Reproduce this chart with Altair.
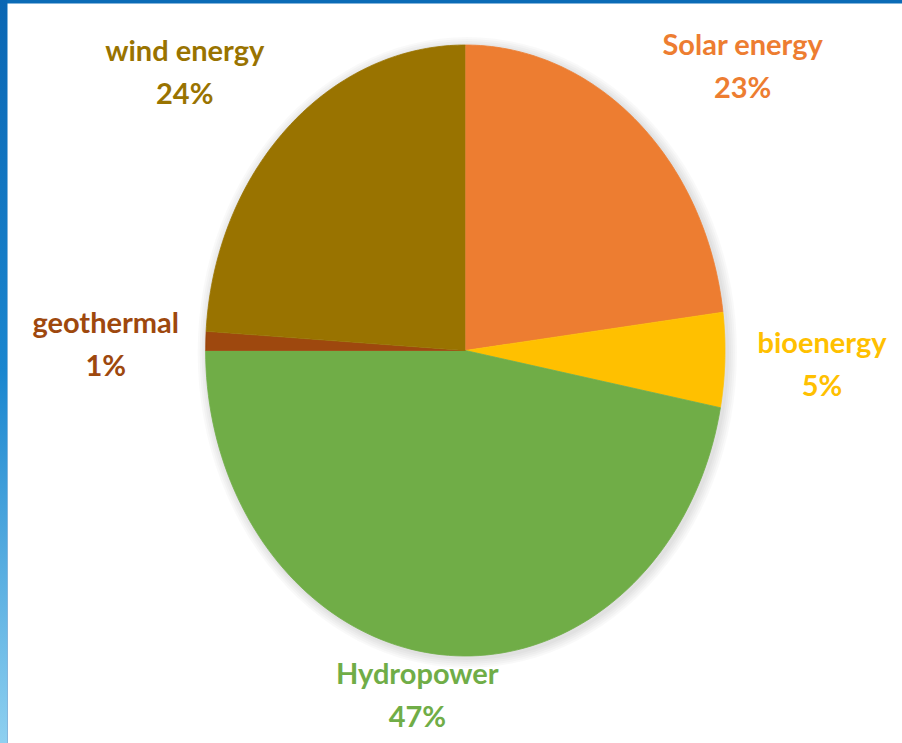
import altair as alt
import pandas as pd

# Share of each renewable source (percent), in clockwise order from 12 o'clock
categories = ["Solar energy", "bioenergy", "Hydropower", "geothermal", "wind energy"]
shares = [23, 5, 47, 1, 24]
colors = ["#ED7D31", "#FFC000", "#70AD47", "#9E480E", "#997300"]

df = pd.DataFrame({"category": categories, "share": shares, "rank": range(len(categories))})

W, H = 895, 740          # white panel / plot area
CX, CY = 458.3, 347.5    # pie centre inside the plot area (px)
RX, RY = 259.7, 305.5    # horizontal / vertical radius (px)
LINE_H = 43              # label line height (px)

xs = alt.Scale(domain=[-1, 1], range=[CX - RX, CX + RX])
ys = alt.Scale(domain=[-1, 1], range=[CY + RY, CY - RY])
cs = alt.Scale(domain=categories, range=colors)

FONT = "Lato, sans-serif"

# cumulative angles for every slice
base = (
    alt.Chart(df)
    .transform_window(cum="sum(share)", sort=[alt.SortField("rank")])
    .transform_joinaggregate(total="sum(share)")
    .transform_calculate(
        a0="2*PI*(datum.cum - datum.share)/datum.total",
        a1="2*PI*datum.cum/datum.total",
    )
)

# soft drop shadow: stacked translucent ellipses slightly larger than the pie
shadow = (
    alt.Chart(alt.Data(values=[{"k": 0}]))
    .transform_calculate(ring="sequence(1, 6)")
    .transform_flatten(["ring"])
    .transform_calculate(step="sequence(0, 121)")
    .transform_flatten(["step"])
    .transform_calculate(t="2*PI*datum.step/120")
    .transform_calculate(
        px=f"sin(datum.t)*(1 + datum.ring*2/{RX}) + 2/{RX}",
        py=f"cos(datum.t)*(1 + datum.ring*2/{RY}) - 2/{RY}",
    )
    .mark_line(filled=True, color="#000000", opacity=0.025, strokeWidth=0)
    .encode(
        x=alt.X("px:Q", scale=xs, axis=None),
        y=alt.Y("py:Q", scale=ys, axis=None),
        detail="ring:N",
        order="step:Q",
    )
)

# each slice as a filled polygon: centre point followed by points along the elliptical rim
slices = (
    base.transform_calculate(step="sequence(-1, 101)")
    .transform_flatten(["step"])
    .transform_calculate(
        t="datum.a0 + (datum.a1 - datum.a0)*max(datum.step, 0)/100",
        r="datum.step < 0 ? 0 : 1",
    )
    .transform_calculate(px="datum.r*sin(datum.t)", py="datum.r*cos(datum.t)")
    .mark_line(filled=True, strokeWidth=0.8)
    .encode(
        x=alt.X("px:Q", scale=xs, axis=None),
        y=alt.Y("py:Q", scale=ys, axis=None),
        color=alt.Color("category:N", scale=cs, legend=None),
        stroke=alt.Stroke("category:N", scale=cs, legend=None),
        order="step:Q",
    )
)

# outside labels: box pushed away from the rim at the slice's mid angle
labels = (
    base.transform_calculate(m="(datum.a0 + datum.a1)/2")
    .transform_calculate(s="sin(datum.m)", c="cos(datum.m)")
    .transform_calculate(
        hw="50 + length(datum.category)*2.8",
        fx="(datum.s < 0 ? -1 : 1)*min(1, abs(datum.s)/0.4)",
        offy=(
            "5 + (datum.c > 0 ? -clamp((datum.c - 0.05)/0.65, 0, 1)*59"
            " : clamp((-datum.c - 0.05)/0.65, 0, 1)*37)"
        ),
    )
    .transform_calculate(
        lx=f"datum.s + datum.fx*(datum.hw + 22)/{RX}",
        ly=f"datum.c - datum.offy/{RY}",
        label="datum.category + '\\n' + datum.share + '%'",
    )
    .mark_text(
        lineBreak="\n",
        font=FONT,
        fontSize=29,
        fontWeight="bold",
        lineHeight=LINE_H,
        align="center",
        baseline="middle",
        dy=-LINE_H / 2,
    )
    .encode(
        x=alt.X("lx:Q", scale=xs, axis=None),
        y=alt.Y("ly:Q", scale=ys, axis=None),
        text="label:N",
        color=alt.Color("category:N", scale=cs, legend=None),
    )
)

# blue frame strip along the left edge
frame = (
    alt.Chart(alt.Data(values=[{"k": 0}]))
    .mark_rect(
        color=alt.LinearGradient(
            gradient="linear",
            stops=[
                alt.GradientStop(color="#0a66b3", offset=0),
                alt.GradientStop(color="#1a86cf", offset=0.5),
                alt.GradientStop(color="#8ed0f0", offset=1),
            ],
            x1=0, x2=0, y1=0, y2=1,
        )
    )
    .encode(x=alt.value(-7), x2=alt.value(0), y=alt.value(-3), y2=alt.value(H))
)

chart = (
    alt.layer(frame, shadow, slices, labels)
    .properties(
        width=W,
        height=H,
        padding={"left": 7, "top": 3, "right": 0, "bottom": 0},
        autosize=alt.AutoSizeParams(type="none"),
        background="#0b6bb6",
    )
    .configure_view(fill="white", strokeOpacity=0)
)

chart.save("out.html", embed_options={"renderer": "svg", "actions": False})
